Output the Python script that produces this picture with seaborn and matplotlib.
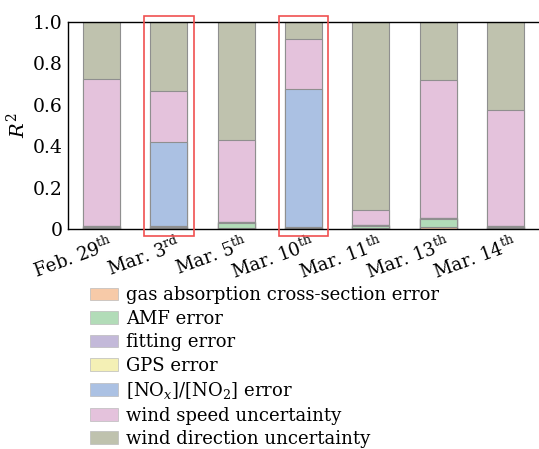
import numpy as np
import pandas as pd
import matplotlib
matplotlib.use("Agg")
import matplotlib.pyplot as plt
import matplotlib.transforms as mtransforms
import seaborn as sns
from matplotlib.patches import Patch, Rectangle

categories = ["Feb. 29$^{\\mathrm{th}}$", "Mar. 3$^{\\mathrm{rd}}$", "Mar. 5$^{\\mathrm{th}}$",
              "Mar. 10$^{\\mathrm{th}}$", "Mar. 11$^{\\mathrm{th}}$", "Mar. 13$^{\\mathrm{th}}$",
              "Mar. 14$^{\\mathrm{th}}$"]
series_names = ["gas absorption cross-section error", "AMF error", "fitting error", "GPS error",
                "[NO$_x$]/[NO$_2$] error", "wind speed uncertainty", "wind direction uncertainty"]
gas = [0.005, 0.005, 0.007, 0.005, 0.006, 0.011, 0.007]
amf = [0.003, 0.007, 0.020, 0.002, 0.008, 0.039, 0.004]
fitting = [0.007, 0.002, 0.005, 0.003, 0.004, 0.002, 0.005]
gps = [0.000, 0.000, 0.001, 0.000, 0.000, 0.000, 0.000]
nox = [0.000, 0.404, 0.002, 0.665, 0.000, 0.000, 0.000]
wind_speed = [0.708, 0.247, 0.395, 0.241, 0.072, 0.668, 0.557]
wind_dir = [0.277, 0.335, 0.570, 0.084, 0.910, 0.280, 0.427]
colors = ["#f7caa8", "#b2dcb8", "#c3b9d9", "#f4f0b5", "#abc1e3", "#e4c2dc", "#bfc2ae"]
highlight = [1, 3]

sns.set_style("white")
plt.rcParams["font.family"] = ["DejaVu Serif"]
plt.rcParams["mathtext.fontset"] = "dejavuserif"
plt.rcParams["text.color"] = "black"
plt.rcParams["axes.labelcolor"] = "black"
plt.rcParams["xtick.color"] = "black"
plt.rcParams["ytick.color"] = "black"

layers = [gas, amf, fitting, gps, nox, wind_speed, wind_dir]
cum = np.cumsum(np.array(layers), axis=0)

fig = plt.figure(figsize=(5.39, 4.49), dpi=100)
ax = fig.add_axes([0.126, 0.49, 0.874, 0.461])

for i in range(len(layers) - 1, -1, -1):
    df = pd.DataFrame({"cat": categories, "val": cum[i]})
    sns.barplot(data=df, x="cat", y="val", color=colors[i], width=0.55,
                edgecolor="#8f8f8f", linewidth=0.8, saturation=1, ax=ax, zorder=2)

ax.set_xlim(-0.5, 6.5)
ax.set_ylim(0, 1.0)
ax.set_yticks([0, 0.2, 0.4, 0.6, 0.8, 1.0])
ax.set_yticklabels(["0", "0.2", "0.4", "0.6", "0.8", "1.0"], fontsize=13.5)
ax.set_xlabel("")
ax.set_ylabel("$R^2$", fontsize=14, labelpad=3)
ax.tick_params(axis="y", length=0, pad=4)
ax.tick_params(axis="x", length=0, pad=3)
offset = mtransforms.ScaledTranslation(7 / 100, 0, fig.dpi_scale_trans)
for lab in ax.get_xticklabels():
    lab.set_rotation(20)
    lab.set_ha("right")
    lab.set_rotation_mode("anchor")
    lab.set_fontsize(13)
    lab.set_transform(lab.get_transform() + offset)
for s in ["left", "top", "bottom"]:
    ax.spines[s].set_color("black")
    ax.spines[s].set_linewidth(1.0)
ax.spines["right"].set_visible(False)

for h in highlight:
    ax.add_patch(Rectangle((h - 0.37, -0.034), 0.74, 1.063, fill=False, edgecolor="#f05050",
                           linewidth=1.2, clip_on=False, zorder=5))

handles = [Patch(facecolor=c, edgecolor="#bbbbbb", linewidth=0.5) for c in colors]
fig.legend(handles, series_names, loc="upper left", bbox_to_anchor=(0.167, 0.362),
           frameon=False, fontsize=13, handlelength=1.55, handleheight=0.7,
           labelspacing=0.3, handletextpad=0.45, borderaxespad=0, borderpad=0)

fig.savefig("out.png", dpi=100)
